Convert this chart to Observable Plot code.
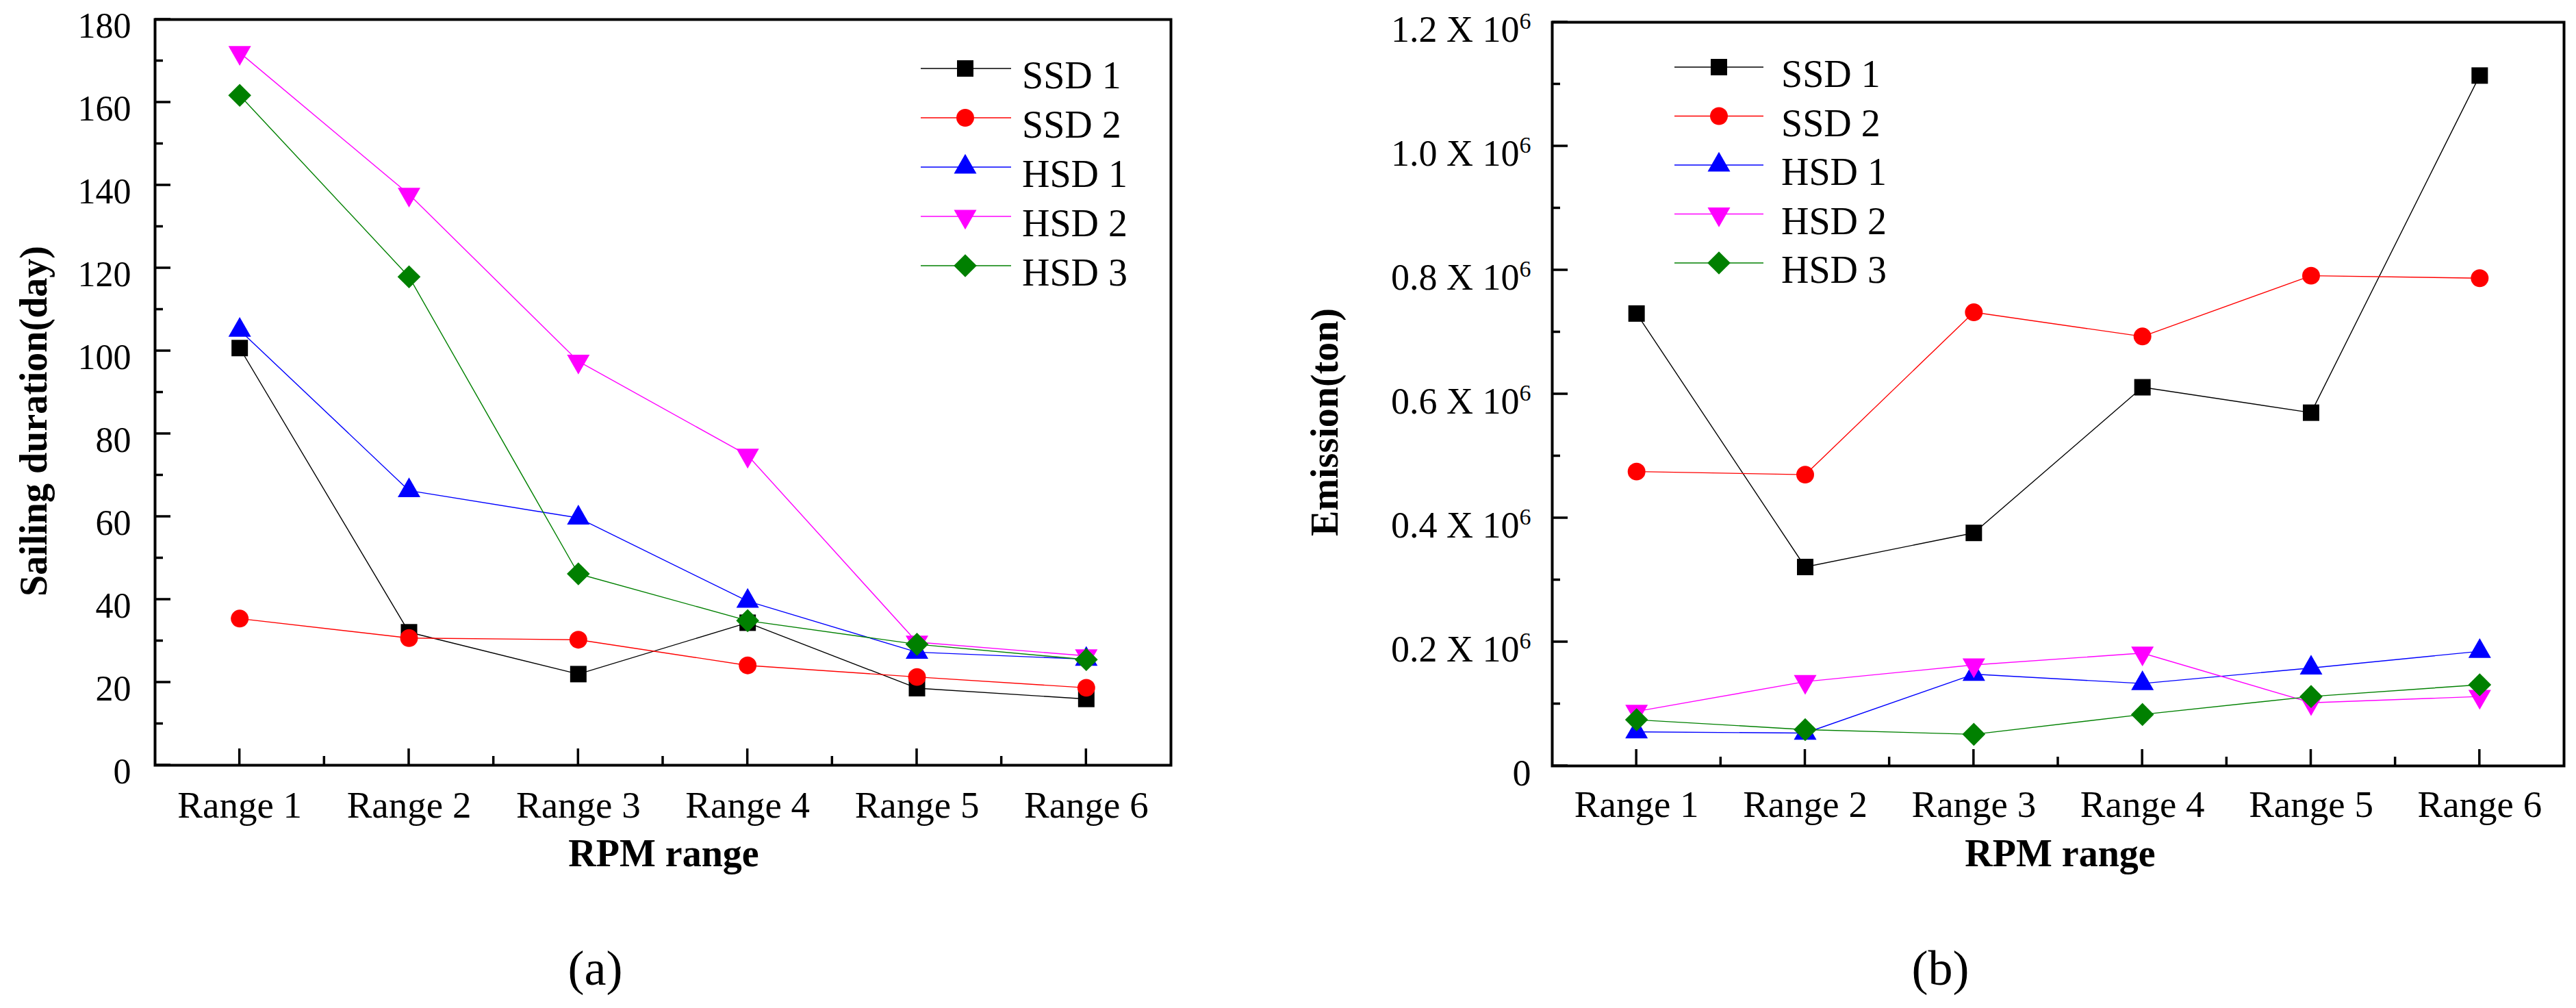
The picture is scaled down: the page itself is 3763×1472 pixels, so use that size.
<!DOCTYPE html>
<html>
<head>
<meta charset="utf-8">
<script src="https://cdn.jsdelivr.net/npm/d3@7"></script>
<script src="https://cdn.jsdelivr.net/npm/@observablehq/plot@0.6"></script>
<style>
html, body { margin: 0; padding: 0; background: #fff; }
#wrap { display: flex; width: 3763px; height: 1472px; overflow: hidden; }
#wrap svg { flex: none; }
</style>
</head>
<body>
<div id="wrap"></div>
<script>
// ---------- data ----------
const ranges = ["Range 1", "Range 2", "Range 3", "Range 4", "Range 5", "Range 6"];
const seriesNames = ["SSD 1", "SSD 2", "HSD 1", "HSD 2", "HSD 3"];
const seriesColors = ["#000000", "#ff0000", "#0000ff", "#ff00ff", "#008000"];

// (a) sailing duration (day)
const durationSSD1 = [100.7, 32.1, 22.0, 34.4, 18.6, 16.0];
const durationSSD2 = [35.4, 30.7, 30.3, 24.1, 21.3, 18.7];
const durationHSD1 = [105.0, 66.3, 59.7, 39.6, 27.3, 25.6];
const durationHSD2 = [172.0, 137.8, 97.5, 74.8, 29.7, 26.4];
const durationHSD3 = [161.7, 117.9, 46.2, 34.9, 29.2, 25.5];

// (b) emission (ton)
const emissionSSD1 = [730000, 321000, 376000, 611000, 570000, 1114000];
const emissionSSD2 = [475000, 470000, 732000, 693000, 791000, 787000];
const emissionHSD1 = [55000, 53000, 148000, 133000, 158000, 185000];
const emissionHSD2 = [88000, 136000, 163000, 182000, 102000, 112000];
const emissionHSD3 = [74500, 58600, 51000, 83000, 112000, 131000];

const durationTicks = [0, 20, 40, 60, 80, 100, 120, 140, 160, 180];
const durationMinorTicks = [10, 30, 50, 70, 90, 110, 130, 150, 170];
const emissionTicks = [0, 200000, 400000, 600000, 800000, 1000000, 1200000];
const emissionMinorTicks = [100000, 300000, 500000, 700000, 900000, 1100000];
const rangeTicks = [1, 2, 3, 4, 5, 6];
const rangeMinorTicks = [1.5, 2.5, 3.5, 4.5, 5.5];

// ---------- marker shapes ----------
const symbolShapes = [
  {draw(c, s) { const h = Math.sqrt(s / Math.PI); c.rect(-h, -h, 2 * h, 2 * h); }},
  {draw(c, s) { const h = Math.sqrt(s / Math.PI) * 1.08; c.moveTo(h, 0); c.arc(0, 0, h, 0, 2 * Math.PI); c.closePath(); }},
  {draw(c, s) { const h = Math.sqrt(s / Math.PI); c.moveTo(0, -1.6 * h); c.lineTo(1.375 * h, 0.8 * h); c.lineTo(-1.375 * h, 0.8 * h); c.closePath(); }},
  {draw(c, s) { const h = Math.sqrt(s / Math.PI); c.moveTo(0, 1.6 * h); c.lineTo(1.375 * h, -0.8 * h); c.lineTo(-1.375 * h, -0.8 * h); c.closePath(); }},
  {draw(c, s) { const h = Math.sqrt(s / Math.PI) * 1.4; c.moveTo(0, -h); c.lineTo(h, 0); c.lineTo(0, h); c.lineTo(-h, 0); c.closePath(); }}
];
const MARKER_R = 12;
const FONT = "'Liberation Serif', 'Times New Roman', Times, serif";

function toRows(values) {
  return values.map((v, i) => ({range: i + 1, value: v}));
}

// inward tick marks, positioned through the plot's own scales
function inwardTicks(yMajor, yMinor) {
  return (index, scales, values, dims) => {
    const g = d3.create("svg:g").attr("aria-label", "inward ticks")
      .attr("stroke", "black").attr("stroke-width", 3.5).attr("fill", "none");
    const left = dims.marginLeft;
    const bottom = dims.height - dims.marginBottom;
    const addY = (vals, len) => vals.forEach(v => {
      const y = scales.y(v);
      g.append("line").attr("x1", left).attr("x2", left + len).attr("y1", y).attr("y2", y);
    });
    const addX = (vals, len) => vals.forEach(v => {
      const x = scales.x(v);
      g.append("line").attr("x1", x).attr("x2", x).attr("y1", bottom).attr("y2", bottom - len);
    });
    addY(yMajor, 23);
    addY(yMinor, 12);
    addX(rangeTicks, 24);
    addX(rangeMinorTicks, 13);
    return g.node();
  };
}

function legendMark(cfg) {
  return (index, scales, values, dims) => {
    const g = d3.create("svg:g").attr("aria-label", "legend");
    seriesNames.forEach((name, i) => {
      const y0 = dims.marginTop + cfg.rowStart + i * cfg.rowStep;
      const x0 = dims.marginLeft;
      g.append("line")
        .attr("x1", x0 + cfg.lineStart).attr("x2", x0 + cfg.lineEnd)
        .attr("y1", y0).attr("y2", y0)
        .attr("stroke", seriesColors[i]).attr("stroke-width", 1.3);
      const p = d3.path();
      symbolShapes[i].draw(p, Math.PI * MARKER_R * MARKER_R);
      g.append("path").attr("d", p.toString())
        .attr("transform", `translate(${x0 + cfg.marker},${y0})`)
        .attr("fill", seriesColors[i]);
      g.append("text")
        .attr("x", x0 + cfg.text).attr("y", y0 + 29)
        .attr("text-anchor", "start")
        .attr("font-size", 56).attr("font-family", FONT).attr("fill", "black")
        .text(name);
    });
    return g.node();
  };
}

function panel(cfg) {
  const marks = [];
  // tick labels
  marks.push(Plot.axisY(cfg.yTicks, {tickSize: 0, tickPadding: cfg.yPad, tickFormat: cfg.yFormat,
    fontSize: cfg.yFont, dy: cfg.yDy, label: null, fill: "black"}));
  marks.push(Plot.axisX(rangeTicks, {tickSize: 0, tickPadding: cfg.xPad, tickFormat: d => ranges[d - 1],
    fontSize: 55, label: null, fill: "black"}));
  marks.push(inwardTicks(cfg.yTicks, cfg.yMinor));
  marks.push(Plot.frame({stroke: "black", strokeWidth: 4}));
  // series
  cfg.series.forEach((vals, i) => {
    const rows = toRows(vals);
    marks.push(Plot.line(rows, {x: "range", y: "value", stroke: seriesColors[i], strokeWidth: 1.4}));
    marks.push(Plot.dot(rows, {x: "range", y: "value", fill: seriesColors[i], stroke: "none",
      r: MARKER_R, symbol: symbolShapes[i]}));
  });
  marks.push(legendMark(cfg.legend));
  // axis titles
  marks.push(Plot.text([cfg.yLabel], {text: d => d, frameAnchor: "left", rotate: -90,
    textAnchor: "middle", lineAnchor: "bottom", dx: cfg.yLabelDx, dy: cfg.yLabelDy,
    fontSize: 56, fontWeight: "bold", fill: "black"}));
  marks.push(Plot.text(["RPM range"], {text: d => d, frameAnchor: "bottom", textAnchor: "middle",
    lineAnchor: "bottom", dx: cfg.xLabelDx, dy: cfg.xLabelDy, fontSize: 56, fontWeight: "bold", fill: "black"}));
  marks.push(Plot.text([cfg.caption], {text: d => d, frameAnchor: "bottom", textAnchor: "middle",
    lineAnchor: "bottom", dx: cfg.capDx, dy: cfg.capDy, fontSize: 72, fill: "black", ariaLabel: "caption"}));

  const svg = Plot.plot({
    width: cfg.width,
    height: 1472,
    marginLeft: cfg.m[0], marginRight: cfg.m[1], marginTop: cfg.m[2], marginBottom: cfg.m[3],
    style: {fontFamily: FONT, fontSize: "52px", background: "white", color: "black", overflow: "visible"},
    x: {type: "linear", domain: [0.5, 6.5], label: null},
    y: {type: "linear", domain: cfg.yDomain, label: null},
    marks
  });
  svg.setAttribute("font-family", FONT);
  // superscript exponents
  d3.select(svg).selectAll('g[aria-label="y-axis tick label"] text').each(function () {
    const t = this.textContent;
    if (t.includes("^")) {
      const [base, exp] = t.split("^");
      const sel = d3.select(this);
      sel.text(base);
      sel.append("tspan").attr("dy", -19).attr("font-size", 34).text(exp);
    }
  });
  // caption with bold letter
  d3.select(svg).selectAll('g[aria-label="caption"] text').each(function () {
    const t = this.textContent;
    const sel = d3.select(this);
    sel.text("");
    sel.append("tspan").text(t[0]);
    sel.append("tspan").attr("font-weight", "bold").text(t.slice(1, -1));
    sel.append("tspan").text(t.slice(-1));
  });
  return svg;
}

const left = panel({
  width: 1880, m: [226, 170, 28, 355],
  yDomain: [0, 180], yTicks: durationTicks, yMinor: durationMinorTicks,
  yFormat: d => String(d), yFont: 52, yPad: 35, yDy: 10, xPad: 37,
  series: [durationSSD1, durationSSD2, durationHSD1, durationHSD2, durationHSD3],
  yLabel: "Sailing duration(day)", yLabelDx: -159, yLabelDy: 42,
  xLabelDx: 1, xLabelDy: 147,
  caption: "(a)", capDx: -99, capDy: 320,
  legend: {rowStart: 72, rowStep: 72, lineStart: 1119, lineEnd: 1251, marker: 1184, text: 1267}
});

const right = panel({
  width: 1883, m: [387, 18, 32, 354],
  yDomain: [0, 1200000], yTicks: emissionTicks, yMinor: emissionMinorTicks,
  yFormat: d => d === 0 ? "0" : (d / 1e6).toFixed(1) + " X 10^6", yFont: 54, yPad: 31, yDy: 11, xPad: 35,
  series: [emissionSSD1, emissionSSD2, emissionHSD1, emissionHSD2, emissionHSD3],
  yLabel: "Emission(ton)", yLabelDx: -314, yLabelDy: 41,
  xLabelDx: 3, xLabelDy: 146,
  caption: "(b)", capDx: -172, capDy: 319,
  legend: {rowStart: 66, rowStep: 71.5, lineStart: 179, lineEnd: 309, marker: 244, text: 335}
});

document.getElementById("wrap").append(left, right);
</script>
</body>
</html>
